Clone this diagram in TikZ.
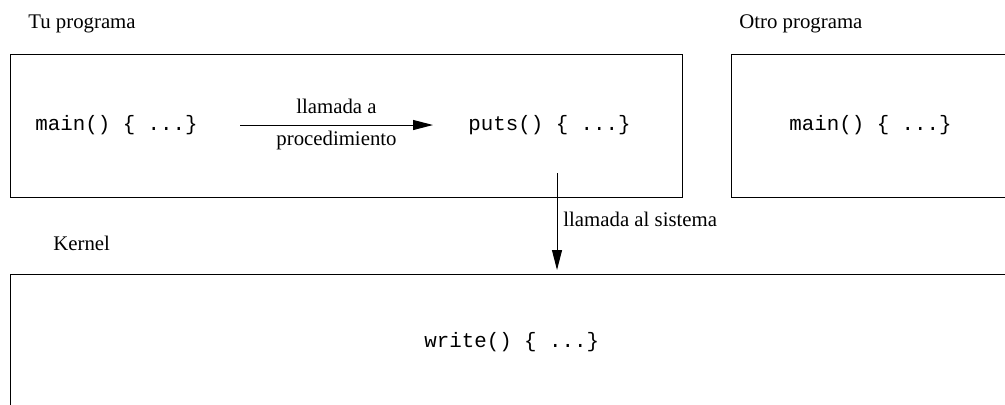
\documentclass[tikz,border=0pt]{standalone}
\usepackage{fontspec}
\setmainfont{Liberation Serif}
\setmonofont{Liberation Mono}
\usetikzlibrary{arrows.meta}

\tikzset{
  frame/.style={draw=black, line width=0.5pt},
  caption/.style={inner sep=0pt, anchor=base west, font=\fontsize{10.4}{12}\selectfont},
  code/.style={inner sep=0pt, anchor=base west, font=\fontsize{10.4}{12}\selectfont\ttfamily},
  call/.style={line width=0.5pt, -{Triangle[length=10pt,width=5pt]}},
}

\begin{document}
\begin{tikzpicture}[x=0.5pt, y=-0.5pt]
  % page area
  \clip (0,0) rectangle (1005,404);
  \useasboundingbox (0,0) rectangle (1005,404);

  % process boxes (running off the right-hand side)
  \draw[frame] (10,54) rectangle (682,197);
  \draw[frame] (731,54) rectangle (1030,197);
  \draw[frame] (10,274) rectangle (1030,440);

  % titles
  \node[caption] (tuprog)   at (28,28)  {Tu programa};
  \node[caption] (otroprog) at (739,28) {Otro programa};
  \node[caption] (kernel)   at (53,250) {Kernel};

  % code inside the boxes
  \node[code] (mainA)  at (35,130)  {main() \{ ...\}};
  \node[code] (puts)   at (468,130) {puts() \{ ...\}};
  \node[code] (mainB)  at (789,130) {main() \{ ...\}};
  \node[code] (write)  at (424,347) {write() \{ ...\}};

  % procedure call
  \coordinate (procfrom) at (240,125);
  \coordinate (procto)   at (433,125);
  \draw[call] (procfrom) -- (procto);
  \node[caption, anchor=base] (lblA) at (336.5,113) {llamada a};
  \node[caption, anchor=base] (lblB) at (336.5,145) {procedimiento};

  % system call
  \coordinate (sysfrom) at (557,173);
  \coordinate (systo)   at (557,270);
  \draw[call] (sysfrom) -- (systo);
  \node[caption] (lblS) at (563,226) {llamada al sistema};
\end{tikzpicture}
\end{document}
